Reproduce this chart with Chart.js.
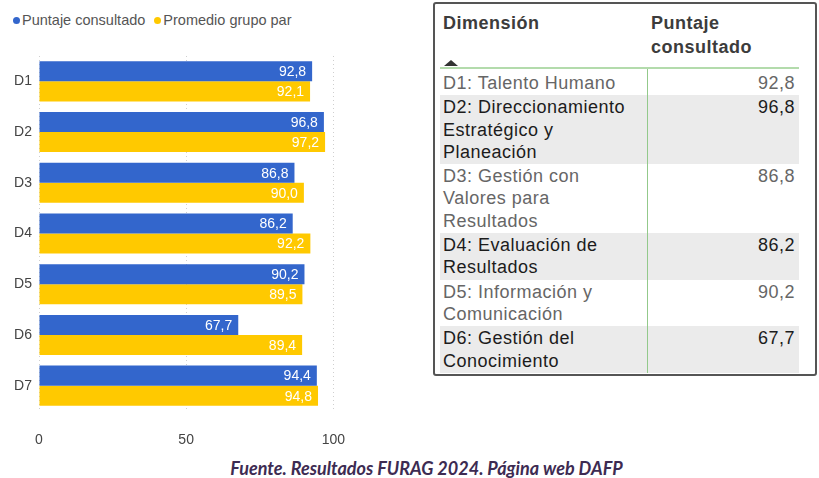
<!DOCTYPE html>
<html>
<head>
<meta charset="utf-8">
<script src="https://cdn.jsdelivr.net/npm/chart.js@4.4.0/dist/chart.umd.min.js"></script>
<style>
    body { margin: 0; width: 819px; height: 478px; background: #fff; position: relative; overflow: hidden;
           font-family: "Liberation Sans", Arial, sans-serif; }
    .legend { position: absolute; top: 12px; left: 13px; font-size: 14.5px; color: #555; white-space: nowrap; }
    .legend span.item { display: inline-block; margin-right: 9px; }
    .legend i { display: inline-block; width: 7px; height: 7px; border-radius: 50%; margin-right: 2px; vertical-align: 1px; }
    .chart-box { position: absolute; left: 0; top: 0; width: 366px; height: 450px; }
    .tbl-box { position: absolute; left: 433px; top: 2px; width: 380px; height: 370px;
               border: 2px solid #555; border-radius: 3px; }
    table { position: absolute; left: 5px; top: 1px; width: 359px; border-collapse: collapse;
            font-size: 18px; letter-spacing: 0.5px; line-height: 22.3px; }
    th { text-align: left; vertical-align: top; font-weight: bold; color: #3c3c3c; height: 56px;
         padding: 6px 0 0 3px; border-bottom: 2px solid #b3dbac; line-height: 24px; }
    th.v { padding-left: 4px; }
    td { vertical-align: top; padding: 1px 0 1px 3px; }
    td.v { text-align: right; padding-right: 4px; border-left: 1px solid #93c98b; }
    tr.odd td { color: #666; background: #fff; }
    tr.even td { color: #1c1c1c; background: #ebebeb; }
    tr.first td { padding-top: 3px; }
    .tri { position: absolute; left: 9px; top: 56px; width: 0; height: 0;
           border-left: 7px solid transparent; border-right: 7px solid transparent; border-bottom: 6px solid #333; }
    .caption { position: absolute; left: 0; width: 853px; top: 457px; text-align: center;
               font-family: Lato, "Open Sans", sans-serif; font-style: italic; font-weight: bold;
               font-size: 18px; color: #3d2b52; }
</style>
</head>
<body>
<div class="legend" id="legend"></div>
<div class="chart-box"><canvas id="chart"></canvas></div>
<div class="tbl-box"><div class="tri"></div><table id="tbl"></table></div>
<div class="caption">Fuente. Resultados FURAG 2024. Página web DAFP</div>

<script>
// data
const categories = ['D1', 'D2', 'D3', 'D4', 'D5', 'D6', 'D7'];
const puntajeConsultado = [92.8, 96.8, 86.8, 86.2, 90.2, 67.7, 94.4];
const promedioGrupoPar = [92.1, 97.2, 90.0, 92.2, 89.5, 89.4, 94.8];
const seriesNames = ['Puntaje consultado', 'Promedio grupo par'];
const xTicks = [0, 50, 100];

const tableHeaders = ['Dimensión', 'Puntaje<br>consultado'];
const dimensionLines = [
    ['D1: Talento Humano'],
    ['D2: Direccionamiento', 'Estratégico y', 'Planeación'],
    ['D3: Gestión con', 'Valores para', 'Resultados'],
    ['D4: Evaluación de', 'Resultados'],
    ['D5: Información y', 'Comunicación'],
    ['D6: Gestión del', 'Conocimiento']
];

const colors = ['#3366cc', '#ffc900'];
const fmt = v => v.toFixed(1).replace('.', ',');

// legend
document.getElementById('legend').innerHTML = seriesNames.map((n, i) =>
    `<span class="item"><i style="background:${colors[i]}"></i>${n}</span>`).join('');

// table
let html = `<tr><th style="width:204px">${tableHeaders[0]}</th><th class="v">${tableHeaders[1]}</th></tr>`;
dimensionLines.forEach((lines, i) => {
    const cls = (i % 2 === 0 ? 'odd' : 'even') + (i === 0 ? ' first' : '');
    html += `<tr class="${cls}"><td>${lines.join('<br>')}</td><td class="v">${fmt(puntajeConsultado[i])}</td></tr>`;
});
document.getElementById('tbl').innerHTML = html;

// value labels inside the bars
const barLabels = {
    id: 'barLabels',
    afterDatasetsDraw(chart) {
        const ctx = chart.ctx;
        ctx.save();
        ctx.font = '14px "Liberation Sans", Arial, sans-serif';
        ctx.fillStyle = '#ffffff';
        ctx.textAlign = 'right';
        ctx.textBaseline = 'middle';
        chart.data.datasets.forEach((ds, di) => {
            chart.getDatasetMeta(di).data.forEach((bar, i) => {
                ctx.fillText(fmt(ds.data[i]), bar.x - 6, bar.y + 1);
            });
        });
        ctx.restore();
    }
};

new Chart(document.getElementById('chart'), {
    type: 'bar',
    data: {
        labels: categories,
        datasets: [
            { label: seriesNames[0], data: puntajeConsultado, backgroundColor: colors[0] },
            { label: seriesNames[1], data: promedioGrupoPar, backgroundColor: colors[1] }
        ]
    },
    options: {
        indexAxis: 'y',
        responsive: true,
        maintainAspectRatio: false,
        animation: false,
        layout: { padding: { top: 56, right: 17, left: 0, bottom: 0 } },
        categoryPercentage: 0.79,
        barPercentage: 1,
        plugins: { legend: { display: false }, tooltip: { enabled: false } },
        scales: {
            x: {
                min: 0, max: 100,
                afterBuildTicks: s => { s.ticks = xTicks.map(v => ({ value: v })); },
                afterFit: s => { s.height = 39; },
                border: { display: false, dash: [1, 3] },
                grid: { color: '#cfcfcf', drawTicks: false },
                ticks: { padding: 21, color: '#444', font: { size: 14, family: '"Liberation Sans", Arial' } }
            },
            y: {
                afterFit: s => { s.width = 39; },
                border: { display: false },
                grid: { display: false, drawTicks: false },
                ticks: { padding: 7, color: '#444', font: { size: 14, family: '"Liberation Sans", Arial' } }
            }
        }
    },
    plugins: [barLabels]
});
</script>
</body>
</html>
